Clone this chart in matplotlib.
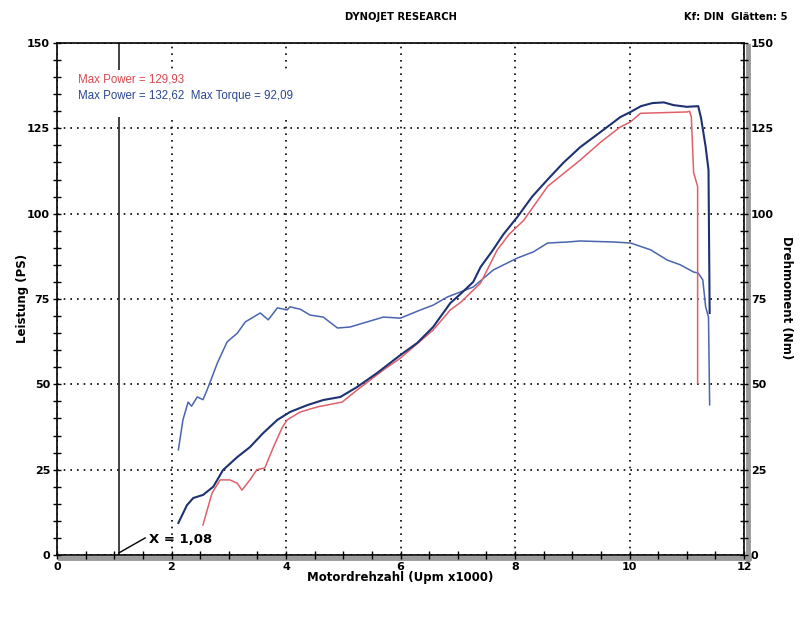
import matplotlib
matplotlib.use('Agg')
import matplotlib.pyplot as plt
from matplotlib.lines import Line2D
from matplotlib.patches import Rectangle
from matplotlib.ticker import MultipleLocator

# Dyno run data (rpm x1000 -> PS / Nm)
rpm_power_blue = [2.12, 2.27, 2.38, 2.55, 2.73, 2.9, 3.15, 3.37, 3.6, 3.85, 4.07, 4.37, 4.65, 4.95,
                  5.24, 5.59, 6.0, 6.29, 6.57, 6.87, 7.05, 7.27, 7.4, 7.6, 7.8, 8.04, 8.3, 8.57,
                  8.85, 9.14, 9.5, 9.84, 10.02, 10.2, 10.4, 10.6, 10.77, 11.0, 11.2, 11.25,
                  11.33, 11.38, 11.4]
power_blue = [9.4, 14.6, 16.7, 17.6, 20, 24.9, 28.7, 31.6, 35.7, 39.6, 41.9, 43.9, 45.4, 46.3,
              49.2, 53.3, 58.6, 62.1, 66.8, 73.8, 76.5, 80, 84.4, 89, 94, 99, 105, 110,
              115, 119.5, 124, 128.3, 129.8, 131.5, 132.4, 132.6, 131.8, 131.3, 131.5, 128,
              119.6, 112.8, 70.9]

rpm_power_red = [2.55, 2.62, 2.71, 2.85, 3.02, 3.15, 3.23, 3.37, 3.49, 3.63, 3.78, 3.93, 4.02,
                 4.25, 4.55, 4.98, 5.24, 5.7, 6.0, 6.57, 6.87, 7.05, 7.4, 7.69, 7.9, 8.15, 8.57,
                 9.14, 9.5, 9.84, 10.02, 10.19, 10.6, 11.01, 11.05, 11.08, 11.12, 11.19, 11.19]
power_red = [8.8, 13, 18.2, 22, 22, 21, 19, 22, 25, 25.5, 31.6, 37.2, 39.6,
             41.9, 43.4, 44.8, 48.3, 54.2, 57.7, 65.9, 71.8, 74, 79.7, 89.4, 94, 98, 108,
             115.7, 121, 125.4, 126.9, 129.4, 129.6, 129.8, 130, 128.3, 112, 108, 50.4]

rpm_torque = [2.12, 2.2, 2.29, 2.35, 2.45, 2.55, 2.62, 2.71, 2.8, 2.97, 3.15, 3.29, 3.55, 3.69,
              3.85, 4.02, 4.07, 4.25, 4.42, 4.65, 4.9, 5.12, 5.42, 5.7, 6.0, 6.35, 6.57, 6.82,
              7.27, 7.62, 8.04, 8.32, 8.57, 8.92, 9.14, 9.72, 10.02, 10.37, 10.66, 10.89,
              11.12, 11.2, 11.28, 11.33, 11.38, 11.4]
torque = [30.8, 39.6, 44.8, 43.6, 46.3, 45.5, 48.3, 52.2, 56.2, 62.4, 65, 68.3, 70.9, 68.9,
          72.4, 71.8, 72.7, 72, 70.3, 69.7, 66.5, 66.8, 68.3, 69.7, 69.4, 71.8, 73.2, 75.6,
          78.5, 83.5, 87, 88.8, 91.4, 91.7, 92, 91.7, 91.4, 89.4, 86.4, 85,
          82.9, 82.6, 80.6, 72.7, 69.7, 44]

cursor_x = 1.08

fig = plt.figure(figsize=(8, 6.17), dpi=100)
ax = fig.add_axes([57 / 800, 1 - 555 / 617, 687 / 800, 512 / 617])

ax.set_xlim(0, 12)
ax.set_ylim(0, 150)
ax.xaxis.set_major_locator(MultipleLocator(2))
ax.xaxis.set_minor_locator(MultipleLocator(0.5))
ax.yaxis.set_major_locator(MultipleLocator(25))
ax.yaxis.set_minor_locator(MultipleLocator(5))
ax.tick_params(which='both', direction='inout', length=6, width=1, top=False,
               right=True, labelright=True, labelsize=8, pad=2)
for lbl in ax.get_xticklabels() + ax.get_yticklabels():
    lbl.set_fontweight('bold')
for spine in ax.spines.values():
    spine.set_linewidth(1.2)

ax.grid(which='major', color='black', linestyle=(0, (1, 3)), linewidth=1.2)

# shadow on right and bottom frame
fig.add_artist(Line2D([747.5 / 800, 747.5 / 800], [1 - 46 / 617, 1 - 559 / 617],
                      color='#9a9a9a', lw=3.5, zorder=0))
fig.add_artist(Line2D([60 / 800, 749 / 800], [1 - 558 / 617, 1 - 558 / 617],
                      color='#9a9a9a', lw=3.5, zorder=0))

ax.axvline(cursor_x, color='#333333', lw=1.3, zorder=2)

ax.plot(rpm_torque, torque, color='#4a64b0', lw=1.1, zorder=3)
ax.plot(rpm_power_red, power_red, color='#e0606a', lw=1.1, zorder=4)
ax.plot(rpm_power_blue, power_blue, color='#1e3272', lw=1.5, zorder=5)

# box behind the max values
ax.add_patch(Rectangle((0.25, 128.4), 4.0, 13.8, facecolor='white', edgecolor='none', zorder=6))
ax.text(0.37, 139.2, 'Max Power = 129,93', color='#d9484f', fontsize=8.3,
        family='Liberation Sans', va='center', zorder=7)
ax.text(0.37, 134.5, 'Max Power = 132,62  Max Torque = 92,09', color='#2b4590', fontsize=8.3,
        family='Liberation Sans', va='center', zorder=7)

# cursor label
ax.plot([cursor_x, 1.54], [0.6, 5], color='black', lw=1, zorder=7)
ax.text(1.6, 4.6, 'X = 1,08', fontsize=9.5, fontweight='bold', va='center', zorder=7)

fig.text(401 / 800, 1 - 17 / 617, 'DYNOJET RESEARCH', fontsize=7.2, fontweight='bold',
         ha='center', va='center')
fig.text(736 / 800, 1 - 17 / 617, 'Kf: DIN  Glätten: 5', fontsize=7.2, fontweight='bold',
         ha='center', va='center')
fig.text(23 / 800, 1 - 298 / 617, 'Leistung (PS)', fontsize=8.5, fontweight='bold',
         rotation=90, ha='center', va='center')
fig.text(786 / 800, 1 - 298 / 617, 'Drehmoment (Nm)', fontsize=8.5, fontweight='bold',
         rotation=-90, ha='center', va='center')
fig.text(400 / 800, 1 - 578 / 617, 'Motordrehzahl (Upm x1000)', fontsize=8.5,
         fontweight='bold', ha='center', va='center')

fig.savefig('out.png', dpi=100)
